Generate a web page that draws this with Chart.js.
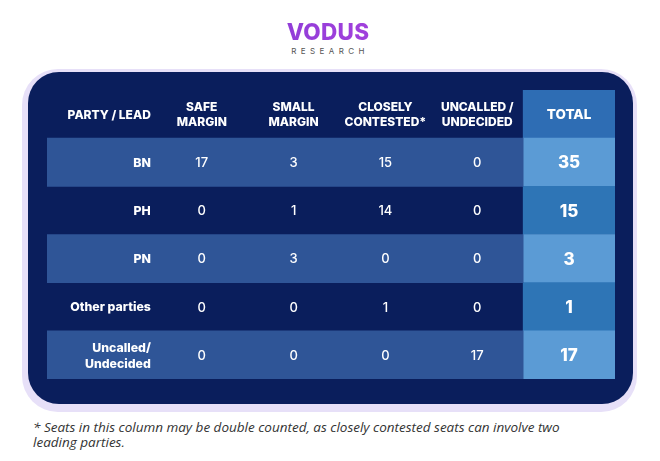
<!DOCTYPE html>
<html>
<head>
<meta charset="utf-8">
<script src="https://cdn.jsdelivr.net/npm/chart.js@4.4.0/dist/chart.umd.min.js"></script>
<style>
    body { margin: 0; width: 660px; height: 461px; background: #ffffff; position: relative; overflow: hidden; font-family: 'Inter', 'Open Sans', sans-serif; }
    .logo { position: absolute; left: 0; width: 656px; top: 20px; text-align: center; }
    .logo .brand { font-size: 22.5px; font-weight: 800; line-height: 24px; letter-spacing: 0.3px;
        background: linear-gradient(90deg, #5b34c9, #a040dc 55%, #7b2fd0); -webkit-background-clip: text; background-clip: text; color: transparent; }
    .logo .sub { font-size: 8px; letter-spacing: 4.4px; color: #555; margin-top: 2px; padding-left: 4px; }
    .halo { position: absolute; left: 22px; top: 69px; width: 615px; height: 343px; border-radius: 36px; background: #e7e0f8; }
    .panel { position: absolute; left: 28px; top: 72px; width: 605px; height: 332px; border-radius: 31px; background: #0a1e5c; }
    .tabel { position: absolute; left: 47px; top: 90px; width: 568px; height: 289px; }
    .catatan { position: absolute; left: 33px; top: 420px; width: 620px; font-family: 'Open Sans', sans-serif; font-style: italic; font-size: 13.5px; line-height: 15px; color: #333; }
</style>
</head>
<body>
    <div class="logo"><div class="brand">VODUS</div><div class="sub">RESEARCH</div></div>
    <div class="halo"></div>
    <div class="panel"></div>
    <div class="tabel"><canvas id="chartKursi"></canvas></div>
    <div class="catatan">* Seats in this column may be double counted, as closely contested seats can involve two<br>leading parties.</div>

<script>
// DATA TABEL
const partai = ['BN', 'PH', 'PN', 'Other parties', 'Uncalled/\nUndecided'];
const kolom = ['SAFE\nMARGIN', 'SMALL\nMARGIN', 'CLOSELY\nCONTESTED*', 'UNCALLED /\nUNDECIDED'];
const safeMargin = [17, 0, 0, 0, 0];
const smallMargin = [3, 1, 3, 0, 0];
const closelyContested = [15, 14, 0, 1, 0];
const uncalledUndecided = [0, 0, 0, 0, 17];
const totalKursi = [35, 15, 3, 1, 17];

// baris: header + partai, kolom: label (kiri), 4 kolom data, total
const baris = ['HEADER', ...partai];
const nilaiKolom = [safeMargin, smallMargin, closelyContested, uncalledUndecided];
const X_MIN = -1.685;       // kolom label lebih lebar
const X_TOTAL = kolom.length; // posisi kolom total

const warnaStripe = '#2f5597';
const warnaTotal = baris.map((b, i) => i === 0 ? '#2e6db4' : (i % 2 === 1 ? '#5b9bd5' : '#2e75b6'));

const stripeData = baris.map((b, i) => (i > 0 && i % 2 === 1) ? [X_MIN, X_TOTAL - 0.5] : null);
const totalData = baris.map(() => [X_TOTAL - 0.5, X_TOTAL + 0.5]);

const teksPlugin = {
    id: 'teksTabel',
    afterDatasetsDraw(chart) {
        const { ctx, scales: { x, y } } = chart;
        ctx.save();
        ctx.fillStyle = '#ffffff';
        ctx.textBaseline = 'middle';

        const tulis = (txt, px, py, font, align, lh) => {
            const lines = txt.split('\n');
            ctx.font = font;
            ctx.textAlign = align;
            lines.forEach((l, k) => ctx.fillText(l, px, py + (k - (lines.length - 1) / 2) * lh));
        };

        const xLabel = x.getPixelForValue(-0.5) - 5;
        const yHead = y.getPixelForValue(0) + 1;
        tulis('PARTY / LEAD', xLabel, yHead, '800 12px Inter', 'right', 15);
        kolom.forEach((k, c) => tulis(k, x.getPixelForValue(c), yHead, '800 12px Inter', 'center', 15));
        tulis('TOTAL', x.getPixelForValue(X_TOTAL), yHead, '800 13.5px Inter', 'center', 15);

        partai.forEach((p, r) => {
            const py = y.getPixelForValue(r + 1) + 1;
            tulis(p, xLabel, py, '800 12.3px Inter', 'right', 16);
            nilaiKolom.forEach((arr, c) => tulis(String(arr[r]), x.getPixelForValue(c), py, '500 13px Inter', 'center', 16));
            tulis(String(totalKursi[r]), x.getPixelForValue(X_TOTAL), py, '800 17px Inter', 'center', 16);
        });
        ctx.restore();
    }
};

new Chart(document.getElementById('chartKursi'), {
    type: 'bar',
    data: {
        labels: baris,
        datasets: [
            { label: 'stripe', data: stripeData, backgroundColor: warnaStripe, grouped: false, barPercentage: 1, categoryPercentage: 1, borderWidth: 0 },
            { label: 'total', data: totalData, backgroundColor: warnaTotal, grouped: false, barPercentage: 1, categoryPercentage: 1, borderWidth: 0 }
        ]
    },
    options: {
        indexAxis: 'y',
        responsive: true,
        maintainAspectRatio: false,
        animation: false,
        layout: { padding: 0 },
        plugins: { legend: { display: false }, tooltip: { enabled: false } },
        scales: {
            x: { type: 'linear', display: false, min: X_MIN, max: X_TOTAL + 0.5 },
            y: { type: 'category', display: false }
        }
    },
    plugins: [teksPlugin]
});
</script>
</body>
</html>
